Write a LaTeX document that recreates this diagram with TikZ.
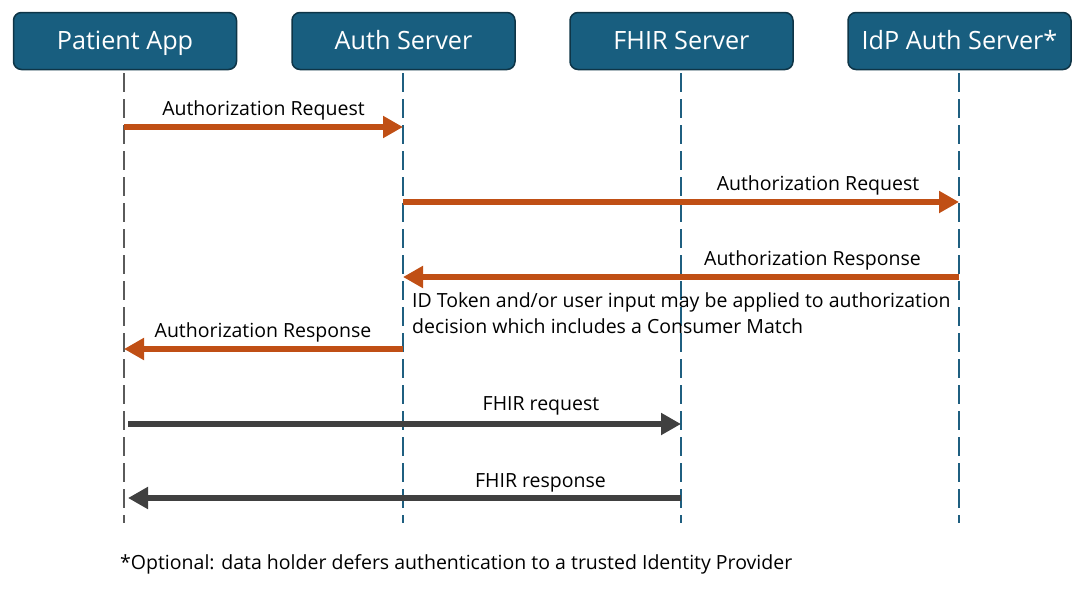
\documentclass[tikz,border=0pt]{standalone}
\usepackage{fontspec}
\setmainfont{Open Sans}
\usetikzlibrary{arrows.meta}
\definecolor{boxfill}{HTML}{185E7F}
\definecolor{boxedge}{HTML}{0E3547}
\definecolor{lifeblue}{HTML}{1F5F80}
\definecolor{lifegray}{HTML}{5A5A5A}
\definecolor{msgorange}{HTML}{C04F15}
\definecolor{msggray}{HTML}{404040}
\tikzset{
  actor/.style={draw=boxedge, line width=1.5pt, fill=boxfill, rounded corners=8pt,
    minimum width=223pt, minimum height=57pt, inner sep=0pt, text=white,
    text height=17pt, text depth=0pt,
    font=\fontsize{25.2}{28}\selectfont},
  lifeline/.style={line width=2pt, dash pattern=on 19pt off 7pt},
  omsg/.style={draw=msgorange, line width=6pt, -{Triangle[length=20pt,width=21pt]}},
  gmsg/.style={draw=msggray, line width=6pt, -{Triangle[length=20pt,width=21pt]}},
  lbl/.style={font=\fontsize{19.5}{25.5}\selectfont, inner sep=0pt, text=black, anchor=base},
}
\begin{document}
\begin{tikzpicture}[x=1pt,y=-1pt]
\useasboundingbox (0,0) rectangle (1084,592);
\node[actor] (pa) at (125,41) {Patient App};
\node[actor] (as) at (403.5,41) {Auth Server};
\node[actor] (fs) at (681.5,41) {FHIR Server};
\node[actor] (idp) at (959.5,41) {IdP Auth Server*};
\coordinate (paEnd) at (124,523);
\coordinate (asEnd) at (403,523);
\coordinate (fsEnd) at (681,523);
\coordinate (idpEnd) at (959,523);
\coordinate (paTop) at (124,73);
\coordinate (asTop) at (403,73);
\coordinate (fsTop) at (681,73);
\coordinate (idpTop) at (959,73);
\draw[lifeline, lifegray] (paTop) -- (paEnd);
\draw[lifeline, lifeblue] (asTop) -- (asEnd);
\draw[lifeline, lifeblue] (fsTop) -- (fsEnd);
\draw[lifeline, lifeblue] (idpTop) -- (idpEnd);
% message points
\coordinate (m1a) at (124,127); \coordinate (m1b) at (403,127);
\coordinate (m2a) at (403,202); \coordinate (m2b) at (959,202);
\coordinate (m3a) at (959,277); \coordinate (m3b) at (403,277);
\coordinate (m4a) at (403,349); \coordinate (m4b) at (124,349);
\coordinate (m5a) at (128,424); \coordinate (m5b) at (681,424);
\coordinate (m6a) at (681,498); \coordinate (m6b) at (128,498);
\draw[omsg] (m1a) -- (m1b);
\draw[omsg] (m2a) -- (m2b);
\draw[omsg] (m3a) -- (m3b);
\draw[omsg] (m4a) -- (m4b);
\draw[gmsg] (m5a) -- (m5b);
\draw[gmsg] (m6a) -- (m6b);
\node[lbl] (l1) at (263.5,115) {Authorization Request};
\node[lbl] (l2) at (818,190) {Authorization Request};
\node[lbl] (l3) at (812.5,265) {Authorization Response};
\node[lbl] (l4) at (263,337) {Authorization Response};
\node[lbl] (l5) at (541,410) {FHIR request};
\node[lbl] (l6) at (540.5,487) {FHIR response};
\node[lbl, anchor=base west, align=left] (note) at (412,333)
  {ID Token and/or user input may be applied to authorization\\decision which includes a Consumer Match};
\node[lbl, anchor=base west] (foot) at (120,569) {*Optional: data holder defers authentication to a trusted Identity Provider};
\end{tikzpicture}
\end{document}
